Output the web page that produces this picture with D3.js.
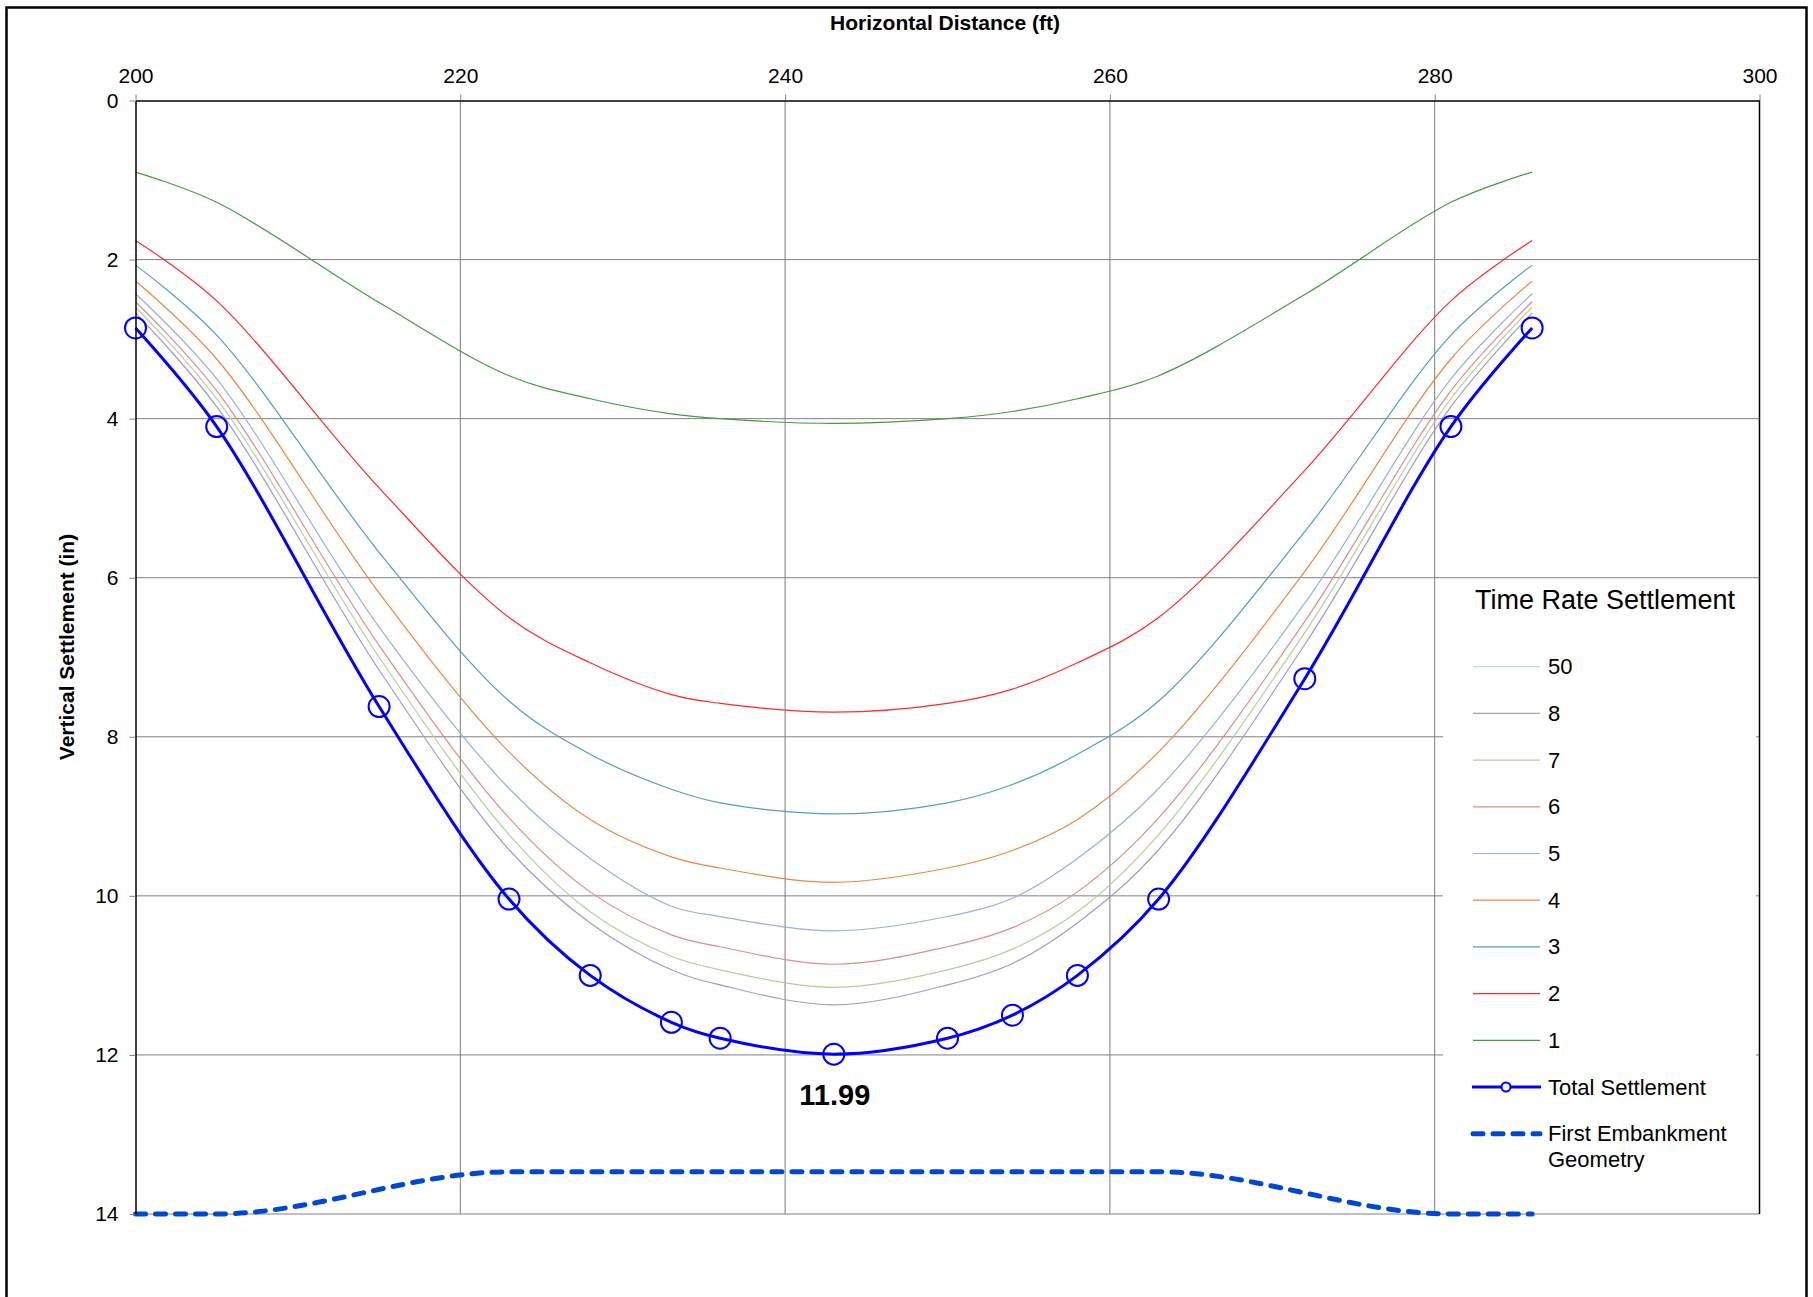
<!DOCTYPE html>
<html>
<head>
<meta charset="utf-8">
<script src="https://cdn.jsdelivr.net/npm/d3@7"></script>
<style>
  body { margin: 0; background: #fff; }
  text { font-family: "Liberation Sans", Arial, sans-serif; }
</style>
</head>
<body>
<script>
// horizontal positions of the readings (ft)
var distance = [200, 205, 215, 223, 228, 233, 236, 243, 250, 254, 258, 263, 272, 281, 286];

// settlement (in) for each time step, same x positions
var yr1  = [0.90, 1.28, 2.54, 3.46, 3.75, 3.94, 4.00, 4.06, 4.00, 3.91, 3.75, 3.46, 2.44, 1.28, 0.90];
var yr2  = [1.76, 2.52, 4.87, 6.50, 7.07, 7.47, 7.58, 7.69, 7.58, 7.40, 7.07, 6.50, 4.65, 2.52, 1.76];
var yr3  = [2.07, 2.95, 5.68, 7.55, 8.22, 8.66, 8.83, 8.97, 8.83, 8.60, 8.22, 7.55, 5.42, 2.95, 2.07];
var yr4  = [2.27, 3.25, 6.19, 8.19, 9.04, 9.51, 9.65, 9.83, 9.65, 9.43, 9.04, 8.19, 5.92, 3.25, 2.27];
var yr5  = [2.43, 3.50, 6.62, 8.65, 9.53, 10.13, 10.26, 10.44, 10.26, 10.03, 9.53, 8.65, 6.32, 3.50, 2.43];
var yr6  = [2.53, 3.65, 6.85, 9.02, 9.95, 10.49, 10.64, 10.86, 10.64, 10.40, 9.95, 9.02, 6.55, 3.65, 2.53];
var yr7  = [2.60, 3.75, 7.00, 9.23, 10.20, 10.76, 10.93, 11.15, 10.93, 10.67, 10.20, 9.23, 6.69, 3.75, 2.60];
var yr8  = [2.67, 3.85, 7.16, 9.42, 10.34, 10.93, 11.12, 11.37, 11.12, 10.85, 10.34, 9.42, 6.84, 3.85, 2.67];
var yr50 = [2.86, 4.10, 7.62, 10.04, 11.00, 11.59, 11.79, 11.99, 11.79, 11.50, 11.00, 10.04, 7.27, 4.10, 2.86];
var totalSettlement = [2.86, 4.10, 7.62, 10.04, 11.00, 11.59, 11.79, 11.99, 11.79, 11.50, 11.00, 10.04, 7.27, 4.10, 2.86];

// first embankment outline
var embankX = [200, 205, 223, 263, 281, 286];
var embankY = [14, 14, 13.47, 13.47, 14, 14];

var xTicks = [200, 220, 240, 260, 280, 300];
var yTicks = [0, 2, 4, 6, 8, 10, 12, 14];
var maxLabel = "11.99";

var timeSeries = [
    {name: "1", values: yr1},
    {name: "2", values: yr2},
    {name: "3", values: yr3},
    {name: "4", values: yr4},
    {name: "5", values: yr5},
    {name: "6", values: yr6},
    {name: "7", values: yr7},
    {name: "8", values: yr8},
    {name: "50", values: yr50}
];
var colors = {"1": "#3f9f3f", "2": "#ff2a2a", "3": "#4f9fc0", "4": "#ec8740", "5": "#97b0df",
    "6": "#de8c8c", "7": "#b6cf98", "8": "#a29ac8", "50": "#bcd9ea"};

var svg = d3.select("body")
    .append("svg")
    .attr("width", 1813)
    .attr("height", 1297);

var x = d3.scaleLinear().domain([200, 300]).range([135.5, 1759.5]);
var y = d3.scaleLinear().domain([0, 14]).range([100.5, 1214]);

// outer frame
svg.append("rect")
    .attr("x", 6.5).attr("y", 7.5)
    .attr("width", 1800).attr("height", 1400)
    .attr("fill", "none").attr("stroke", "#000").attr("stroke-width", 2.5);

// grid
svg.append("g").selectAll("line")
    .data(xTicks.slice(1, -1))
    .enter().append("line")
    .attr("x1", function(d) { return x(d); })
    .attr("x2", function(d) { return x(d); })
    .attr("y1", y(0))
    .attr("y2", y(14))
    .attr("stroke", "#7a7a7a");

svg.append("g").selectAll("line")
    .data(yTicks.slice(1))
    .enter().append("line")
    .attr("x1", x(200))
    .attr("x2", x(300))
    .attr("y1", function(d) { return y(d); })
    .attr("y2", function(d) { return y(d); })
    .attr("stroke", "#808080");

// legend background hides the grid behind it
svg.append("rect")
    .attr("x", 1443).attr("y", 579.5)
    .attr("width", 313).attr("height", 631)
    .attr("fill", "#fff");

var line = d3.line()
    .x(function(d) { return x(d[0]); })
    .y(function(d) { return y(d[1]); })
    .curve(d3.curveCatmullRom.alpha(0.5));

// time rate curves
svg.append("g").selectAll("path")
    .data(timeSeries.slice().reverse())
    .enter().append("path")
    .attr("d", function(s) { return line(d3.zip(distance, s.values)); })
    .attr("fill", "none")
    .attr("stroke", function(s) { return colors[s.name]; })
    .attr("stroke-width", 1.2);

// total settlement
svg.append("path")
    .attr("d", line(d3.zip(distance, totalSettlement)))
    .attr("fill", "none")
    .attr("stroke", "#0000ff")
    .attr("stroke-width", 3);

svg.append("g").selectAll("circle")
    .data(d3.zip(distance, totalSettlement))
    .enter().append("circle")
    .attr("cx", function(d) { return x(d[0]); })
    .attr("cy", function(d) { return y(d[1]); })
    .attr("r", 10.5)
    .attr("fill", "none")
    .attr("stroke", "#0000ff")
    .attr("stroke-width", 2);

svg.append("text")
    .attr("x", x(243) + 1)
    .attr("y", y(11.99) + 51)
    .attr("text-anchor", "middle")
    .attr("font-size", "29px")
    .attr("font-weight", "bold")
    .text(maxLabel);

// embankment (flat crest, so monotone smoothing)
var embankLine = d3.line()
    .x(function(d) { return x(d[0]); })
    .y(function(d) { return y(d[1]); })
    .curve(d3.curveMonotoneX);

svg.append("path")
    .attr("d", embankLine(d3.zip(embankX, embankY)))
    .attr("fill", "none")
    .attr("stroke", "#0048d4")
    .attr("stroke-width", 5)
    .attr("stroke-linecap", "round")
    .attr("stroke-dasharray", "10,10");

// axes
var xAxis = svg.append("g")
    .attr("transform", "translate(0," + y(0) + ")")
    .call(d3.axisTop(x).tickValues(xTicks).tickSize(6).tickSizeOuter(0).tickPadding(12));
var yAxis = svg.append("g")
    .attr("transform", "translate(" + x(200) + ",0)")
    .call(d3.axisLeft(y).tickValues(yTicks).tickSize(6).tickSizeOuter(0).tickPadding(11));
[xAxis, yAxis].forEach(function(a) {
    a.select(".domain").attr("stroke", "#000").attr("stroke-width", 1.5);
    a.selectAll(".tick line").attr("stroke", "#808080");
    a.selectAll(".tick text").attr("font-size", "21px").attr("fill", "#000")
        .attr("font-family", "Liberation Sans, Arial, sans-serif");
});

svg.append("line")
    .attr("x1", x(300)).attr("x2", x(300))
    .attr("y1", y(0)).attr("y2", y(14))
    .attr("stroke", "#000").attr("stroke-width", 1.5);

svg.append("text")
    .attr("x", 945).attr("y", 30)
    .attr("text-anchor", "middle")
    .attr("font-size", "21px").attr("font-weight", "bold")
    .text("Horizontal Distance (ft)");

svg.append("text")
    .attr("transform", "translate(74,647) rotate(-90)")
    .attr("text-anchor", "middle")
    .attr("font-size", "21px").attr("font-weight", "bold")
    .text("Vertical Settlement (in)");

// legend
var legend = svg.append("g");
legend.append("text")
    .attr("x", 1475).attr("y", 609)
    .attr("font-family", "Lato, sans-serif")
    .attr("font-size", "27px")
    .text("Time Rate Settlement");

var rowY = function(i) { return 666.7 + i * 46.7; };
var legendOrder = timeSeries.slice().reverse();
var rows = legend.selectAll("g.row")
    .data(legendOrder)
    .enter().append("g")
    .attr("class", "row")
    .attr("transform", function(d, i) { return "translate(0," + rowY(i) + ")"; });
rows.append("line")
    .attr("x1", 1473).attr("x2", 1540)
    .attr("stroke", function(d) { return colors[d.name]; })
    .attr("stroke-width", 1.2);
rows.append("text")
    .attr("x", 1548).attr("y", 7.5)
    .attr("font-size", "22px")
    .text(function(d) { return d.name; });

var tY = rowY(legendOrder.length);
legend.append("line")
    .attr("x1", 1472).attr("x2", 1541).attr("y1", tY).attr("y2", tY)
    .attr("stroke", "#0000ff").attr("stroke-width", 3);
legend.append("circle")
    .attr("cx", 1506).attr("cy", tY).attr("r", 4.5)
    .attr("fill", "#fff").attr("stroke", "#0000ff").attr("stroke-width", 2);
legend.append("text")
    .attr("x", 1548).attr("y", tY + 7.5)
    .attr("font-size", "22px")
    .text("Total Settlement");

var eY = rowY(legendOrder.length + 1);
legend.append("line")
    .attr("x1", 1473).attr("x2", 1540).attr("y1", eY).attr("y2", eY)
    .attr("stroke", "#0048d4").attr("stroke-width", 5)
    .attr("stroke-linecap", "round").attr("stroke-dasharray", "10,10");
var eText = legend.append("text")
    .attr("x", 1548).attr("y", eY + 7.5)
    .attr("font-size", "22px");
eText.append("tspan").attr("x", 1548).text("First Embankment");
eText.append("tspan").attr("x", 1548).attr("dy", 26).text("Geometry");
</script>
</body>
</html>
